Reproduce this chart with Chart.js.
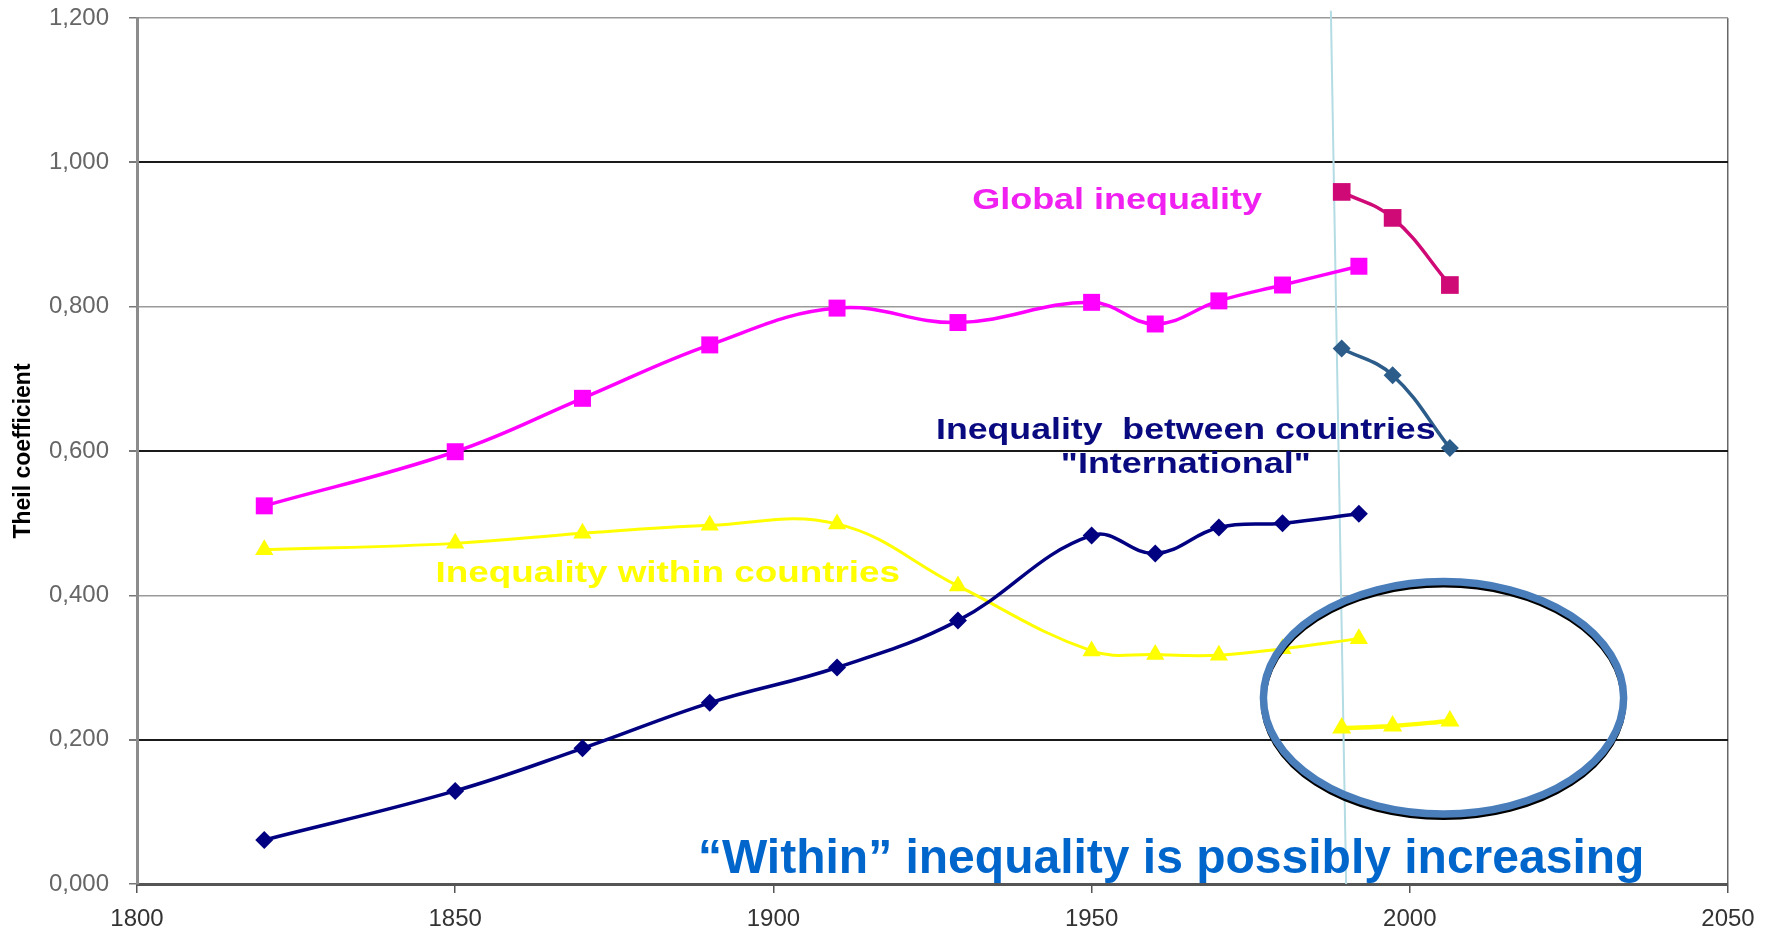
<!DOCTYPE html>
<html>
<head>
<meta charset="utf-8">
<script src="https://cdn.jsdelivr.net/npm/chart.js@4.4.1/dist/chart.umd.min.js"></script>
<style>
  html, body { margin: 0; padding: 0; background: #fff; }
</style>
</head>
<body>
<canvas id="chart" width="1771" height="930"></canvas>
<script>
// Theil coefficient, Bourguignon-Morrisson series + recent estimates
const years = [1820, 1850, 1870, 1890, 1910, 1929, 1950, 1960, 1970, 1980, 1992];
const globalTheil = [0.524, 0.599, 0.673, 0.747, 0.798, 0.778, 0.806, 0.776, 0.808, 0.830, 0.856];
const betweenTheil = [0.061, 0.129, 0.188, 0.251, 0.300, 0.365, 0.483, 0.458, 0.494, 0.500, 0.513];
const withinTheil = [0.463, 0.472, 0.486, 0.497, 0.499, 0.413, 0.323, 0.318, 0.317, 0.326, 0.340];

const recentYears = [1989.3, 1997.3, 2006.3];
const globalRecent = [0.959, 0.923, 0.830];
const betweenRecent = [0.742, 0.705, 0.604];
const withinRecent = [0.216, 0.219, 0.226];

const xTicks = [1800, 1850, 1900, 1950, 2000, 2050];
const yTicks = [0, 0.2, 0.4, 0.6, 0.8, 1.0, 1.2];

const FONT = "'Liberation Sans', Arial, sans-serif";

function series(label, xs, ys, color, style, radius, width) {
  return {
    label: label,
    data: xs.map((x, i) => ({ x: x, y: ys[i] })),
    borderColor: color,
    backgroundColor: color,
    pointBackgroundColor: color,
    pointBorderColor: color,
    pointBorderWidth: 0,
    pointStyle: style,
    pointRadius: radius,
    borderWidth: width,
    tension: 0.4,
    fill: false
  };
}

// text labels placed on the chart (anchored in data units)
const notes = [
  { text: 'Global inequality', x: 1954.0, y: 0.936, color: '#F020F0', font: 'bold 29px ' + FONT, stretch: 1.24 },
  { text: 'Inequality  between countries', x: 1964.8, y: 0.616, color: '#0A0A80', font: 'bold 29px ' + FONT, stretch: 1.23 },
  { text: '"International"', x: 1964.8, y: 0.569, color: '#0A0A80', font: 'bold 29px ' + FONT, stretch: 1.24 },
  { text: 'Inequality within countries', x: 1883.4, y: 0.418, color: '#FFFF00', font: 'bold 29px ' + FONT, stretch: 1.27 },
  { text: '\u201CWithin\u201D inequality is possibly increasing', x: 1962.5, y: 0.015, color: '#0066CC', font: 'bold 48px ' + FONT, stretch: 1.0 }
];

const markings = {
  id: 'markings',
  beforeDatasetsDraw(chart) {
    const { ctx, scales: { x, y } } = chart;
    // thin light-blue divider
    ctx.save();
    ctx.strokeStyle = '#B4DCE4';
    ctx.lineWidth = 2;
    ctx.beginPath();
    ctx.moveTo(x.getPixelForValue(1987.6), y.getPixelForValue(1.21));
    ctx.lineTo(x.getPixelForValue(1990.0), y.getPixelForValue(0));
    ctx.stroke();
    ctx.restore();
  },
  afterDatasetsDraw(chart) {
    const { ctx, scales: { x, y } } = chart;
    ctx.save();
    notes.forEach(n => {
      ctx.save();
      ctx.translate(x.getPixelForValue(n.x), y.getPixelForValue(n.y));
      ctx.scale(n.stretch, 1);
      ctx.font = n.font;
      ctx.fillStyle = n.color;
      ctx.textAlign = 'center';
      ctx.textBaseline = 'alphabetic';
      ctx.fillText(n.text, 0, 0);
      ctx.restore();
    });

    // highlight ellipse
    const cx = x.getPixelForValue(2005.3);
    const cy = y.getPixelForValue(0.258);
    const rx = x.getPixelForValue(2005.3 + 28.3) - cx;
    const ry = cy - y.getPixelForValue(0.258 + 0.161);
    ctx.lineWidth = 6;
    ctx.strokeStyle = '#000';
    ctx.beginPath();
    ctx.ellipse(cx, cy + 3, rx, ry, 0, 0, Math.PI * 2);
    ctx.stroke();
    ctx.lineWidth = 7.5;
    ctx.strokeStyle = '#4A7EBB';
    ctx.beginPath();
    ctx.ellipse(cx, cy, rx, ry, 0, 0, Math.PI * 2);
    ctx.stroke();
    ctx.restore();
  }
};

new Chart(document.getElementById('chart'), {
  type: 'line',
  data: {
    datasets: [
      series('Global', years, globalTheil, '#FF00FF', 'rect', 12, 3.5),
      series('Global recent', recentYears, globalRecent, '#CF0A76', 'rect', 12.5, 3.5),
      series('Between', years, betweenTheil, '#000080', 'rectRot', 9, 3.5),
      series('Between recent', recentYears, betweenRecent, '#2C5C8A', 'rectRot', 9, 3.5),
      series('Within', years, withinTheil, '#FFFF00', 'triangle', 10.5, 3),
      series('Within recent', recentYears, withinRecent, '#FFFF00', 'triangle', 11, 4.5)
    ]
  },
  options: {
    responsive: false,
    animation: false,
    devicePixelRatio: 1,
    layout: { padding: { top: 0, right: 43, left: 0, bottom: 0 } },
    plugins: {
      legend: { display: false },
      tooltip: { enabled: false }
    },
    scales: {
      x: {
        type: 'linear',
        min: xTicks[0],
        max: xTicks[xTicks.length - 1],
        afterBuildTicks: s => { s.ticks = xTicks.map(v => ({ value: v })); },
        afterFit: s => { s.height = 46; },
        border: { color: '#555', width: 3 },
        grid: {
          color: c => (c.tick && c.tick.value === 2050) ? '#666' : 'rgba(0,0,0,0)',
          tickColor: '#555',
          lineWidth: 1.5,
          tickLength: 9
        },
        ticks: {
          color: '#333',
          font: { family: FONT, size: 24 },
          padding: 12,
          maxRotation: 0,
          callback: v => String(v)
        }
      },
      y: {
        min: 0,
        max: 1.2,
        afterBuildTicks: s => { s.ticks = yTicks.map(v => ({ value: v })); },
        afterFit: s => { s.width = 137; s.paddingTop = 18; s.paddingBottom = 0; },
        border: { color: '#8c8c8c', width: 3 },
        grid: {
          color: c => {
            const k = Math.round(c.tick.value * 5);
            if (k === 0) return 'rgba(0,0,0,0)';
            return k % 2 === 1 ? '#1a1a1a' : '#9a9a9a';
          },
          lineWidth: c => (Math.round(c.tick.value * 5) % 2 === 1 ? 2 : 1.5),
          tickColor: '#777',
          tickLength: 8
        },
        ticks: {
          color: '#666',
          font: { family: FONT, size: 24 },
          padding: 20,
          callback: v => v.toFixed(3).replace('.', ',')
        },
        title: {
          display: true,
          text: 'Theil coefficient',
          color: '#000',
          font: { family: FONT, size: 23, weight: 'bold' },
          padding: { top: 10, bottom: 0 }
        }
      }
    }
  },
  plugins: [markings]
});
</script>
</body>
</html>
